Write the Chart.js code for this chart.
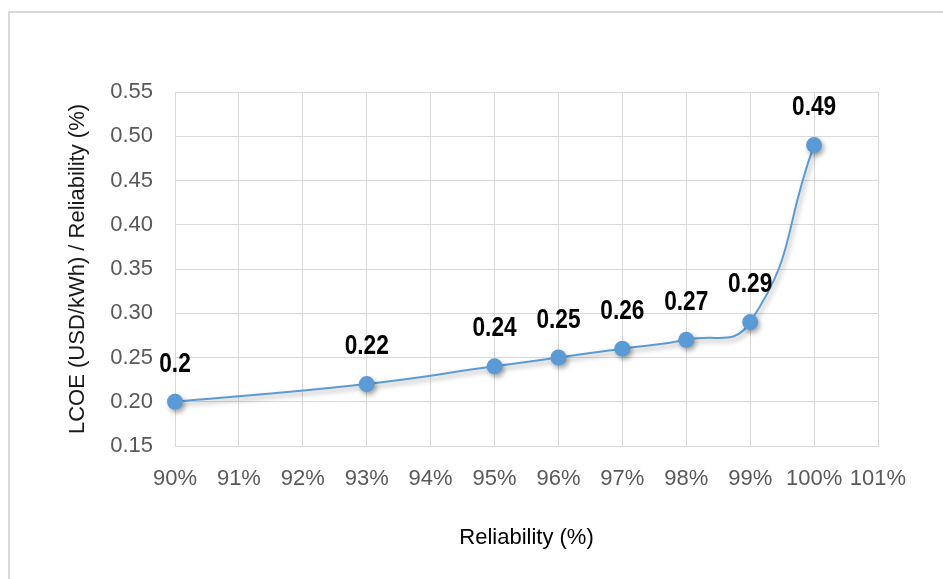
<!DOCTYPE html>
<html>
<head>
<meta charset="utf-8">
<script src="https://cdn.jsdelivr.net/npm/chart.js@4.4.1/dist/chart.umd.min.js"></script>
<style>
  html, body { margin: 0; padding: 0; background: #fff; }
  #wrap { position: relative; width: 943px; height: 579px; overflow: hidden; }
  #frame { position: absolute; left: 8px; top: 11px; width: 960px; height: 600px;
           border-left: 2px solid #d9d9d9; border-top: 2px solid #d9d9d9; }
  canvas { position: absolute; left: 0; top: 0; }
</style>
</head>
<body>
<div id="wrap">
  <div id="frame"></div>
  <canvas id="c" width="943" height="579"></canvas>
</div>
<script>
// Reliability levels (%) and the resulting levelised cost of energy (USD/kWh)
const reliability = [90, 93, 95, 96, 97, 98, 99, 100];
const lcoe = [0.2, 0.22, 0.24, 0.25, 0.26, 0.27, 0.29, 0.49];

const xMin = 90, xMax = 101, xStep = 1;
const yMin = 0.15, yMax = 0.55, yStep = 0.05;

const xTitle = 'Reliability (%)';
const yTitle = 'LCOE (USD/kWh) / Reliability (%)';

const blue = '#5B9BD5';
const gridColor = '#d9d9d9';

// Soft drop shadow under the line and markers
const shadowPlugin = {
  id: 'shadow',
  beforeDatasetsDraw(chart) {
    const ctx = chart.ctx;
    ctx.save();
    ctx.shadowColor = 'rgba(0,0,0,0.35)';
    ctx.shadowBlur = 5;
    ctx.shadowOffsetX = 2;
    ctx.shadowOffsetY = 3;
  },
  afterDatasetsDraw(chart) {
    chart.ctx.restore();
  }
};

// Value labels above each marker, in a condensed bold face
const valueLabels = {
  id: 'valueLabels',
  afterDatasetsDraw(chart) {
    const ctx = chart.ctx;
    const meta = chart.getDatasetMeta(0);
    const squeeze = 0.84;
    ctx.save();
    ctx.font = 'bold 27px "Liberation Sans", Arial, sans-serif';
    ctx.fillStyle = '#000';
    ctx.textAlign = 'center';
    ctx.textBaseline = 'alphabetic';
    meta.data.forEach((pt, i) => {
      ctx.save();
      ctx.translate(pt.x, pt.y - 30);
      ctx.scale(squeeze, 1);
      ctx.fillText(String(lcoe[i]), 0, 0);
      ctx.restore();
    });
    ctx.restore();
  }
};

new Chart(document.getElementById('c'), {
  type: 'line',
  data: {
    datasets: [{
      data: reliability.map((r, i) => ({ x: r, y: lcoe[i] })),
      borderColor: blue,
      backgroundColor: blue,
      borderWidth: 2,
      pointRadius: 8,
      pointHoverRadius: 8,
      pointBorderWidth: 0,
      pointBackgroundColor: blue,
      tension: 0.5,
      clip: false,
      fill: false
    }]
  },
  options: {
    responsive: false,
    animation: false,
    events: [],
    layout: { padding: { left: 61, right: 65, top: 92, bottom: 24 } },
    plugins: { legend: { display: false }, tooltip: { enabled: false } },
    scales: {
      x: {
        type: 'linear',
        min: xMin, max: xMax,
        afterFit(axis) { axis.height = 109; },
        ticks: {
          stepSize: xStep,
          padding: 20,
          color: '#595959',
          font: { family: '"Liberation Sans", Arial, sans-serif', size: 22 },
          callback: v => v + '%',
          maxRotation: 0, autoSkip: false
        },
        grid: { color: gridColor, lineWidth: 1, drawTicks: false },
        border: { color: gridColor, width: 1 },
        title: {
          display: true, text: xTitle, color: '#000',
          font: { family: '"Liberation Sans", Arial, sans-serif', size: 22 },
          padding: { top: 4, bottom: 4 }
        }
      },
      y: {
        type: 'linear',
        min: yMin, max: yMax,
        afterFit(axis) { axis.width = 114; },
        ticks: {
          stepSize: yStep,
          padding: 22,
          color: '#595959',
          font: { family: '"Liberation Sans", Arial, sans-serif', size: 22 },
          callback: v => v.toFixed(2)
        },
        grid: { color: gridColor, lineWidth: 1, drawTicks: false },
        border: { color: gridColor, width: 1 },
        title: {
          display: true, text: yTitle, color: '#1a1a1a',
          font: { family: '"Liberation Sans", Arial, sans-serif', size: 22 },
          padding: { top: 4, bottom: 4 }
        }
      }
    }
  },
  plugins: [shadowPlugin, valueLabels]
});
</script>
</body>
</html>
